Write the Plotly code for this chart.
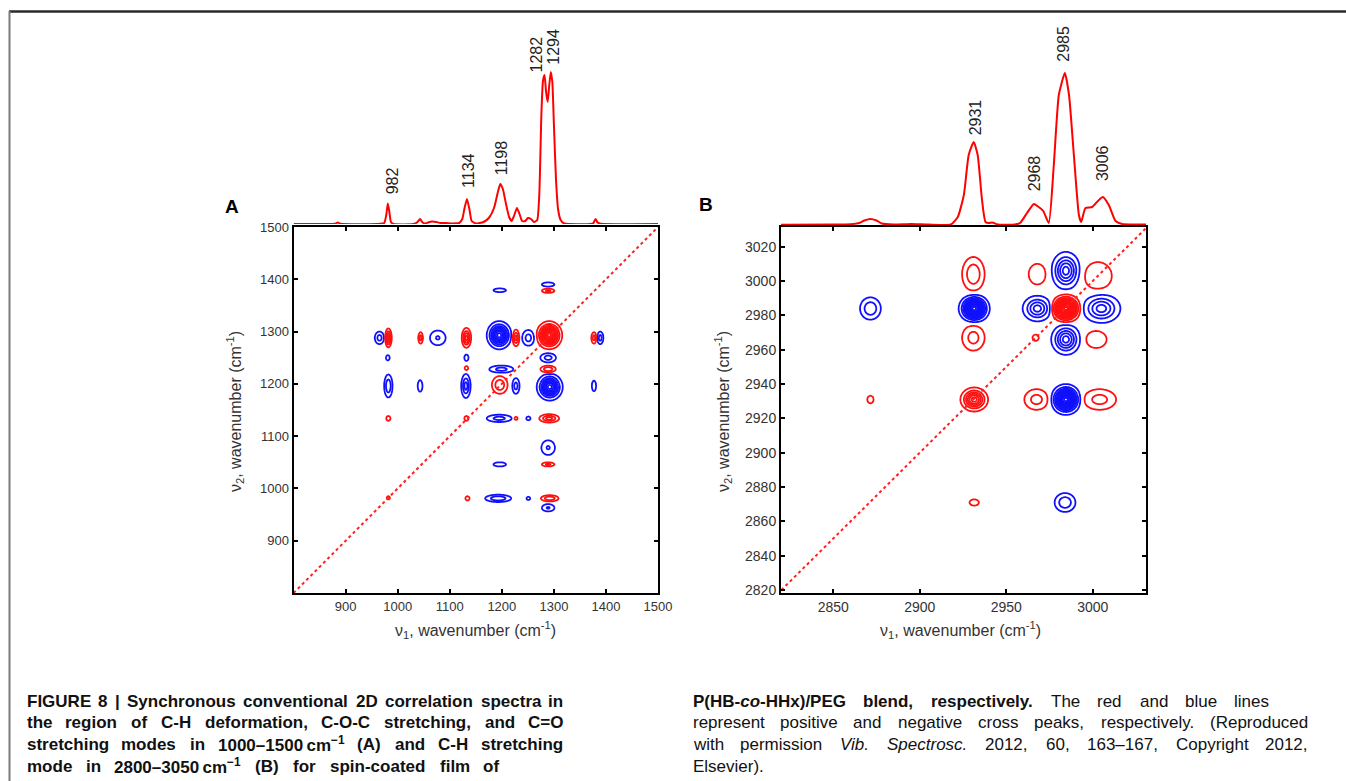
import re
import numpy as np
import plotly.graph_objects as go

# ---------------- data ----------------
# Panel A: 1D reference spectrum (top trace), relative intensity
specA_x = [800, 860, 880, 885, 890, 960, 974, 978, 981, 984, 987, 992, 1030, 1038, 1043, 1047, 1052,
           1058, 1066, 1074, 1082, 1092, 1105, 1118, 1124, 1128, 1133, 1138, 1142, 1150, 1165, 1175,
           1185, 1192, 1197, 1202, 1208, 1214, 1219, 1224, 1229, 1234, 1239, 1245, 1250, 1256, 1262,
           1268, 1272, 1276, 1279, 1282, 1285, 1288, 1291, 1294, 1297, 1300, 1304, 1308, 1313, 1320,
           1370, 1376, 1380, 1384, 1390, 1500]
specA_y = [0, 0, 0.3, 1.5, 0.3, 0, 1, 9, 20.5, 12, 2, 0, 0, 2, 5, 2, 0.5,
           1.5, 2.5, 2, 1, 1, 0.5, 1, 5, 15, 25, 14, 3, 0.5, 2, 6,
           16, 31, 40, 35, 20, 7, 3, 9, 16, 10, 3, 3, 6, 5, 2,
           4, 30, 110, 143, 149, 132, 122, 138, 152, 142, 100, 45, 15, 4, 0.5,
           0, 1, 5, 1.5, 0.3, 0]
peakA_labels = [982, 1134, 1198, 1282, 1294]
peakA_heights = [20.5, 25, 40, 149, 152]

# Panel B: 1D reference spectrum
specB_x = [2818, 2850, 2860, 2865, 2868, 2871.5, 2875, 2878, 2885, 2895, 2905, 2918, 2922, 2925.5,
           2928.3, 2931.2, 2933.5, 2936, 2938, 2940, 2942, 2945, 2955, 2958, 2962, 2966, 2968.8,
           2971.4, 2974.6, 2977.5, 2980.4, 2983.9, 2986.3, 2989.1, 2992, 2993.3, 2995.8, 2999.7,
           3003, 3005.8, 3009.3, 3013.2, 3017, 3022, 3031]
specB_y = [0.3, 0.5, 0.8, 2, 4.5, 6, 4.5, 1.5, 0.5, 1, 0.5, 0.5, 8, 30,
           70, 83, 70, 25, 3, 2, 2.5, 0.5, 0.5, 2, 12, 21, 18,
           14, 2, 60, 130, 152, 130, 70, 10, 3, 17, 18,
           24, 28, 20, 4, 1, 0.5, 0.5]
peakB_labels = [2931, 2968, 2985, 3006]
peakB_heights = [83, 21, 152, 28]

# Panel A: synchronous 2D correlation cross peaks
# centre (nu1, nu2), signed strength (number of contour rings), outer half-widths (cm-1)
spotA_x = [965, 982, 1044, 1077, 1132, 1195, 1227, 1251, 1291, 1377, 1389,
           981, 1132, 1289,
           1199, 1132, 1289,
           982, 1043, 1131, 1196, 1227, 1292, 1377,
           982, 1132, 1195, 1227, 1251, 1291,
           1289, 1196, 1289, 1196, 1289, 1289,
           1134, 1193, 1251, 1292, 1289, 982]
spotA_y = [1288, 1288, 1288, 1288, 1288, 1293, 1288, 1288, 1293, 1288, 1288,
           1250, 1250, 1250,
           1228, 1230, 1228,
           1196, 1196, 1196, 1198, 1196, 1194, 1196,
           1134, 1134, 1134, 1134, 1134, 1134,
           1078, 1046, 1046, 1379, 1390, 1378,
           981, 981, 981, 981, 963, 982]
spotA_amp = [-2, 4, 2, -1.6, 4, -8, 3, -2, 10, 2, -2,
             -1.2, -1.3, -2,
             -2, 1.2, 2.5,
             -2.5, -1.5, -3, 2.5, -2, -8, -1.5,
             1.2, 1.2, -2, 1.2, -1.2, 3,
             -1.6, -1.5, 1.8, -1.5, -1.5, 1.8,
             1.2, -2.5, -1.2, 2.5, -1.6, 1.0]
spotA_rx = [9, 6.5, 4.5, 15, 9, 24, 7, 12, 25, 5, 6,
            3.5, 4, 15,
            23, 3.5, 15,
            8, 4.5, 9, 15, 7, 25, 4,
            4, 4, 24, 3.5, 4, 19,
            13, 12, 12, 12, 12, 12,
            4, 25, 3.5, 17, 12, 3]
spotA_ry = [12, 18, 11, 14, 19, 27, 16, 15, 27, 11, 12,
            5, 6, 9,
            7, 4, 7,
            22, 11, 23, 17, 15, 26, 10,
            4.5, 4.5, 7, 3.5, 3.5, 8,
            14, 4, 4, 3.5, 4, 4,
            4, 7, 3, 6, 7, 3]

# Panel B: synchronous 2D correlation cross peaks
spotB_x = [2871.5, 2931.5, 2968, 2984.5, 3005,
           2931, 2968, 2984.5, 3003,
           2931, 2967, 2984.5, 3002,
           2871.5, 2931.5, 2967.5, 2984.5, 3004,
           2931.5, 2984]
spotB_y = [2984, 2984, 2984, 2984, 2984,
           3004, 3004, 3006, 3003,
           2967, 2967, 2966, 2966,
           2931, 2931, 2931, 2931, 2931,
           2871, 2871]
spotB_amp = [-2.5, -12, -4, 14, -4,
             2.5, 1.2, -5, 1.5,
             2, 1.0, -5, 1.5,
             1.1, 6, 2, -12, 2,
             1.2, -2.5]
spotB_rx = [6, 9, 8.5, 9, 11,
            6.5, 5, 8.5, 8,
            6.5, 1.8, 8.5, 6,
            1.8, 8, 7, 9, 9.5,
            2.7, 6]
spotB_ry = [6.5, 8.5, 7.5, 8.5, 8.5,
            10, 6, 11, 8,
            7.5, 1.8, 9, 5,
            2.2, 7, 6, 9, 6,
            1.8, 5.5]

ticksA = [900, 1000, 1100, 1200, 1300, 1400, 1500]
ticksBx = [2850, 2900, 2950, 3000]
ticksBy = [2820, 2840, 2860, 2880, 2900, 2920, 2940, 2960, 2980, 3000, 3020]

rangeA = [800, 1500]
rangeBx = [2819.8, 3030.8]
rangeBy = [2818.1, 3031.3]

# ---------------- helpers ----------------
W, H = 1346, 781


def px(x):
    return x / W


def py(y):
    return 1 - y / H


def field(gx, gy, xs, ys, amps, rxs, rys):
    X, Y = np.meshgrid(gx, gy)
    Z = np.zeros_like(X)
    for cx, cy, a, rx, ry in zip(xs, ys, amps, rxs, rys):
        k = np.sqrt(2 * np.log(2 * abs(a)))
        sx, sy = rx / k, ry / k
        Z += a * np.exp(-0.5 * (((X - cx) / sx) ** 2 + ((Y - cy) / sy) ** 2))
    return Z.astype(np.float32)


gxA = np.arange(930, 1430.01, 1.0)
gyA = np.arange(930, 1430.01, 1.0)
ZA = field(gxA, gyA, spotA_x, spotA_y, spotA_amp, spotA_rx, spotA_ry)
gxB = np.arange(2850, 3028.01, 0.4)
gyB = np.arange(2850, 3028.01, 0.4)
ZB = field(gxB, gyB, spotB_x, spotB_y, spotB_amp, spotB_rx, spotB_ry)

RB = [[0, '#1010ff'], [0.5, '#1010ff'], [0.5, '#ff1010'], [1, '#ff1010']]
FONT = 'Liberation Sans, Arial, Helvetica, sans-serif'

fig = go.Figure()

for (gx, gy, Z, xa, ya) in [(gxA, gyA, ZA, 'x', 'y'), (gxB, gyB, ZB, 'x3', 'y3')]:
    fig.add_trace(go.Contour(
        x=gx, y=gy, z=Z, xaxis=xa, yaxis=ya,
        contours=dict(start=-19.5, end=19.5, size=1, coloring='lines'),
        colorscale=RB, zmin=-20, zmax=20, zauto=False, showscale=False,
        line=dict(width=1.8), hoverinfo='skip'))

# diagonals
fig.add_trace(go.Scatter(x=rangeA, y=rangeA, mode='lines', xaxis='x', yaxis='y',
                         line=dict(color='#ff2020', width=2, dash='dot'), hoverinfo='skip'))
fig.add_trace(go.Scatter(x=[2820, 3030.8], y=[2820, 3030.8], mode='lines', xaxis='x3', yaxis='y3',
                         line=dict(color='#ff2020', width=2, dash='dot'), hoverinfo='skip'))

# 1D spectra
fig.add_trace(go.Scatter(x=specA_x, y=specA_y, mode='lines', xaxis='x2', yaxis='y2',
                         line=dict(color='#ff0000', width=2, shape='spline', smoothing=0.5)))
fig.add_trace(go.Scatter(x=specB_x, y=specB_y, mode='lines', xaxis='x4', yaxis='y4',
                         line=dict(color='#ff0000', width=2, shape='spline', smoothing=0.5)))

ax2d = dict(showline=True, linewidth=2, linecolor='black', mirror='ticks', ticks='inside',
            ticklen=4, tickwidth=1.5, tickcolor='black', showgrid=False, zeroline=False,
            tickfont=dict(family=FONT, size=13, color='#333'))
axhide = dict(visible=False, showgrid=False, zeroline=False)

dAx = [px(293.6), px(658)]
dAy = [py(593), py(227)]
dBx = [px(781), px(1146)]
dBy = [py(593.3), py(227.3)]

fig.update_layout(
    width=W, height=H, margin=dict(l=0, r=0, t=0, b=0, pad=0),
    paper_bgcolor='white', plot_bgcolor='rgba(0,0,0,0)', showlegend=False,
    template='none',
    xaxis=dict(ax2d, domain=dAx, range=rangeA, tickvals=ticksA, anchor='y'),
    yaxis=dict(ax2d, domain=dAy, range=rangeA, tickvals=ticksA, anchor='x'),
    xaxis2=dict(axhide, domain=dAx, range=rangeA, anchor='y2'),
    yaxis2=dict(axhide, domain=[py(224), py(59)], range=[0, 165], anchor='x2'),
    xaxis3=dict(ax2d, domain=dBx, range=rangeBx, tickvals=ticksBx, anchor='y3',
                tickfont=dict(family=FONT, size=14, color='#333')),
    yaxis3=dict(ax2d, domain=dBy, range=rangeBy, tickvals=ticksBy, anchor='x3',
                tickfont=dict(family=FONT, size=14, color='#333')),
    xaxis4=dict(axhide, domain=dBx, range=rangeBx, anchor='y4'),
    yaxis4=dict(axhide, domain=[py(225), py(60)], range=[0, 165], anchor='x4'),
)

ann = []
# peak labels
gapA = [7, 9, 7, 0, 5]
shA = [4, 1, 1, -9, 2]
for v, h, g, s in zip(peakA_labels, peakA_heights, gapA, shA):
    ann.append(dict(x=v, y=h + g, xref='x2', yref='y2', text=str(v), showarrow=False,
                    textangle=-90, xanchor='center', yanchor='bottom', xshift=s,
                    font=dict(family=FONT, size=16, color='#222')))
gapB = [5, 11, 9, 14]
shB = [3, -2, -3, 0]
for v, h, g, s in zip(peakB_labels, peakB_heights, gapB, shB):
    ann.append(dict(x=v, y=h + g, xref='x4', yref='y4', text=str(v), showarrow=False,
                    textangle=-90, xanchor='center', yanchor='bottom', xshift=s,
                    font=dict(family=FONT, size=16, color='#222')))

# panel letters
for t, x, y in [('A', 232, 206), ('B', 706, 204)]:
    ann.append(dict(x=px(x), y=py(y), xref='paper', yref='paper', text='<b>%s</b>' % t,
                    showarrow=False, xanchor='center', yanchor='middle',
                    font=dict(family=FONT, size=19, color='black')))

# axis titles
xt = 'ν<sub>1</sub>, wavenumber (cm<sup>-1</sup>)'
yt = 'ν<sub>2</sub>, wavenumber (cm<sup>-1</sup>)'
for x, y, t, ang in [(475, 630, xt, 0), (960, 630, xt, 0), (235, 412, yt, -90), (723, 412, yt, -90)]:
    ann.append(dict(x=px(x), y=py(y), xref='paper', yref='paper', text=t, showarrow=False,
                    textangle=ang, xanchor='center', yanchor='middle',
                    font=dict(family=FONT, size=16, color='#333')))

# ---------------- caption (justified word by word) ----------------
REG = {' ': 278, '(': 333, ')': 333, ',': 278, '-': 333, '.': 278, '/': 278, '=': 584, '|': 260,
       '–': 556, '−': 584, '\u2009': 167}
BOLD = {' ': 278, '(': 333, ')': 333, ',': 278, '-': 333, '.': 278, '/': 278, '=': 584, '|': 280,
        '–': 556, '−': 584, '\u2009': 167}
for d in '0123456789':
    REG[d] = 556
    BOLD[d] = 556
REG.update(dict(zip('ABCDEFGHIJKLMNOPQRSTUVWXYZ',
                    [667, 667, 722, 722, 667, 611, 778, 722, 278, 500, 667, 556, 833, 722, 778, 667,
                     778, 722, 667, 611, 722, 667, 944, 667, 667, 611])))
REG.update(dict(zip('abcdefghijklmnopqrstuvwxyz',
                    [556, 556, 500, 556, 556, 278, 556, 556, 222, 222, 500, 222, 833, 556, 556, 556,
                     556, 333, 500, 278, 556, 500, 722, 500, 500, 500])))
BOLD.update(dict(zip('ABCDEFGHIJKLMNOPQRSTUVWXYZ',
                     [722, 722, 722, 722, 667, 611, 778, 722, 278, 556, 722, 611, 833, 722, 778, 667,
                      778, 722, 667, 611, 722, 667, 944, 667, 667, 611])))
BOLD.update(dict(zip('abcdefghijklmnopqrstuvwxyz',
                     [556, 611, 556, 611, 556, 333, 611, 611, 278, 278, 556, 278, 889, 611, 611, 611,
                      611, 389, 556, 333, 611, 556, 778, 556, 556, 500])))


def text_width(html, size, bold_default):
    bold, scale, w = bold_default, 1.0, 0.0
    for p in re.split(r'(<[^>]+>)', html):
        if p == '<b>':
            bold = True
        elif p == '</b>':
            bold = bold_default
        elif p == '<sup>':
            scale = 0.7
        elif p == '</sup>':
            scale = 1.0
        elif p.startswith('<'):
            continue
        else:
            tab = BOLD if bold else REG
            for ch in p:
                w += tab.get(ch, 556) * scale
    return w * size / 1000.0


def place_line(tokens, x0, x1, y, size, bold, justify=True):
    widths = [text_width(t, size, bold) for t in tokens]
    n = len(tokens)
    gap = (x1 - x0 - sum(widths)) / (n - 1) if (justify and n > 1) else size * 0.278
    x = x0
    for i, (t, w) in enumerate(zip(tokens, widths)):
        txt = '<b>%s</b>' % t if bold else t
        if i == 0:
            ax, anc = x0, 'left'
        elif justify and i == n - 1:
            ax, anc = x1, 'right'
        else:
            ax, anc = x + w / 2, 'center'
        ann.append(dict(x=px(ax), y=py(y), xref='paper', yref='paper', text=txt, showarrow=False,
                        xanchor=anc, yanchor='middle', borderpad=0,
                        font=dict(family=FONT, size=size, color='#111')))
        x += w + gap


rows = [701, 722, 744, 766]
left_lines = [
    'FIGURE 8 | Synchronous conventional 2D correlation spectra in'.split(),
    'the region of C-H deformation, C-O-C stretching, and C=O'.split(),
    ['stretching', 'modes', 'in', '1000–1500\u2009cm<sup>−1</sup>', '(A)', 'and', 'C-H', 'stretching'],
    ['mode', 'in', '2800–3050\u2009cm<sup>−1</sup>', '(B)', 'for', 'spin-coated', 'film', 'of'],
]
left_ends = [564, 564, 564, 500]
for toks, y, x1 in zip(left_lines, rows, left_ends):
    place_line(toks, 26, x1, y, 17, True)

right_lines = [
    ['<b>P(HB-<i>co</i>-HHx)/PEG</b>', '<b>blend,</b>', '<b>respectively.</b>', 'The', 'red', 'and',
     'blue', 'lines'],
    'represent positive and negative cross peaks, respectively. (Reproduced'.split(),
    ['with', 'permission', '<i>Vib.</i>', '<i>Spectrosc.</i>', '2012,', '60,', '163–167,', 'Copyright',
     '2012,'],
]
right_ends = [1270, 1309, 1309]
for toks, y, x1 in zip(right_lines, rows[:3], right_ends):
    place_line(toks, 692, x1, y, 17, False)
place_line(['Elsevier).'], 692, 800, rows[3], 17, False, justify=False)

fig.update_layout(annotations=ann)

# frame lines
fig.update_layout(shapes=[
    dict(type='line', xref='paper', yref='paper', x0=px(9), x1=px(1346), y0=py(11.5), y1=py(11.5),
         line=dict(color='#2a2a2a', width=2.5)),
    dict(type='line', xref='paper', yref='paper', x0=px(9.5), x1=px(9.5), y0=py(11), y1=py(781),
         line=dict(color='#7a7a7a', width=2)),
])

fig.write_html("out.html", config={'displayModeBar': False},
               post_script="document.body.style.margin='0';document.body.style.overflow='hidden';")
